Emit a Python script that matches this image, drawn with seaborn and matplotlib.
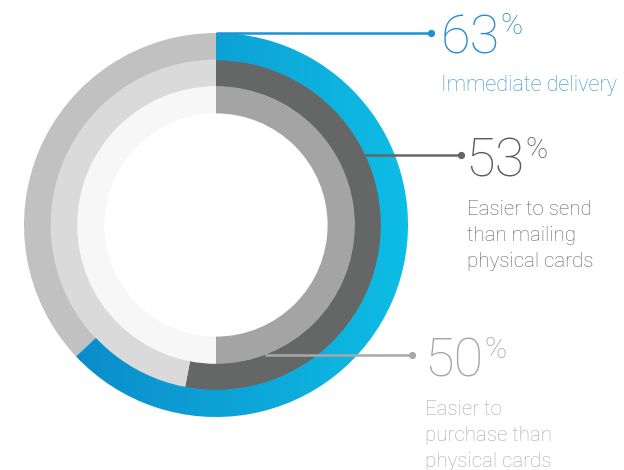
import numpy as np
import matplotlib
matplotlib.use("Agg")
import matplotlib.pyplot as plt
from matplotlib.colors import LinearSegmentedColormap
import seaborn as sns

# ---- data ----
percentages = [63, 53, 50]
pct_labels = ["63", "53", "50"]
descriptions = [
    ["Immediate delivery"],
    ["Easier to send", "than mailing", "physical cards"],
    ["Easier to", "purchase than", "physical cards"],
]

# ---- style ----
sns.set_theme(style="white")
plt.rcParams["font.family"] = ["Roboto", "DejaVu Sans"]

W, H = 624, 470
fig = plt.figure(figsize=(W / 100, H / 100), dpi=100)
ax = fig.add_axes([0, 0, 1, 1])

cx, cy_px = 216, 225
cy = H - cy_px
R = 192
w = 26.6

fill_colors = ["#1aa0da", "#656766", "#a4a4a4"]
rest_colors = ["#c1c1c1", "#dadada", "#f7f7f7"]
line_colors = ["#1a93d4", "#666666", "#a8a8a8"]
num_colors = ["#2a8bcf", "#5a5a5a", "#a6a6a6"]
desc_colors = ["#3793d2", "#626262", "#a8a8a8"]

wedge_sets = []
for i, p in enumerate(percentages):
    wedges, _ = ax.pie(
        [p, 100 - p],
        colors=[fill_colors[i], rest_colors[i]],
        radius=R - i * w,
        center=(cx, cy),
        startangle=90,
        counterclock=False,
        wedgeprops=dict(width=w + 0.6, linewidth=0, antialiased=True),
        frame=False,
    )
    wedge_sets.append(wedges)

# gradient on blue wedge
blue = wedge_sets[0][0]
blue.set_facecolor("none")
cmap = LinearSegmentedColormap.from_list("b", ["#0b84c6", "#0ebee5"])
grad = np.linspace(0, 1, 256).reshape(1, -1)
im = ax.imshow(grad, cmap=cmap, extent=(cx - R - 4, cx + R + 4, cy - R - 4, cy + R + 4),
               aspect="auto", zorder=blue.get_zorder() + 0.1, interpolation="bilinear")
im.set_clip_path(blue)

ax.set_xlim(0, W)
ax.set_ylim(0, H)
ax.set_aspect("equal")
ax.axis("off")

# leader lines: (start x, y px, end x)
leaders = [(216, 33.3, 431), (365, 155, 461), (265, 355, 412)]
for i, (x0, ypx, x1) in enumerate(leaders):
    y = H - ypx
    ax.plot([x0, x1], [y, y], color=line_colors[i], lw=1.8, solid_capstyle="butt", zorder=5)
    ax.plot([x1], [y], "o", color=line_colors[i], ms=4.2, zorder=6)

# labels
num_pos = [(440.5, 53.3), (465.5, 176.7), (424.5, 376.7)]
pct_pos = [(500.5, 34.5), (525.5, 158), (484.5, 358.5)]
desc_x = [441, 467, 425]
desc_baselines = [[90.7], [215, 241.2, 266.8], [415, 441.2, 466.8]]
desc_sizes = [15.6, 14.8, 14.8]

for i in range(3):
    nx, ny = num_pos[i]
    ax.text(nx, H - ny, pct_labels[i], fontsize=39, fontweight="light",
            color=num_colors[i], ha="left", va="baseline")
    px, py = pct_pos[i]
    ax.text(px, H - py, "%", fontsize=21.5, fontweight="light",
            color=num_colors[i], ha="left", va="baseline")
    for line, b in zip(descriptions[i], desc_baselines[i]):
        ax.text(desc_x[i], H - b, line, fontsize=desc_sizes[i], fontweight="light",
                color=desc_colors[i], ha="left", va="baseline")

fig.savefig("out.png", dpi=100)
